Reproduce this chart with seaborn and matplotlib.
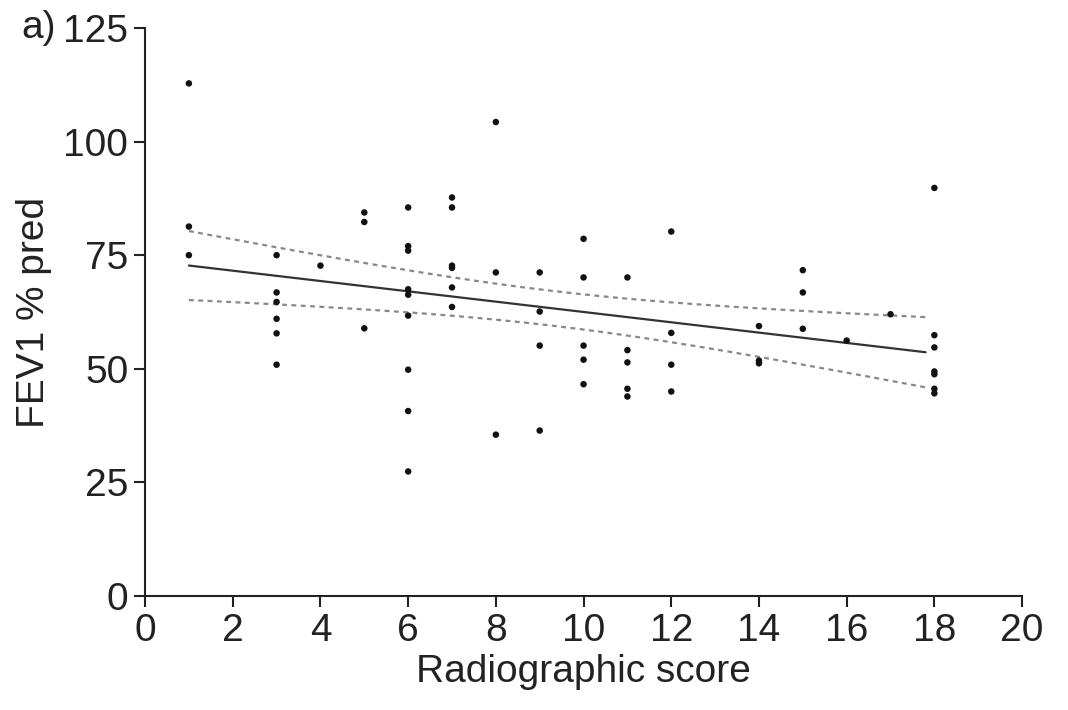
import matplotlib.pyplot as plt
import numpy as np
import pandas as pd
import seaborn as sns

# Radiographic score (x) and FEV1 % predicted (y)
score = [1, 1, 1,
         3, 3, 3, 3, 3, 3,
         4,
         5, 5, 5,
         6, 6, 6, 6, 6, 6, 6, 6, 6,
         7, 7, 7, 7, 7, 7,
         8, 8, 8,
         9, 9, 9, 9,
         10, 10, 10, 10, 10,
         11, 11, 11, 11, 11,
         12, 12, 12, 12,
         14, 14, 14,
         15, 15, 15,
         16,
         17,
         18, 18, 18, 18, 18, 18, 18]
fev1 = [112.8, 81.3, 75.0,
        75.0, 66.8, 64.7, 61.0, 57.8, 50.9,
        72.7,
        84.4, 82.3, 58.9,
        85.5, 77.0, 76.0, 67.5, 66.3, 61.7, 49.8, 40.7, 27.4,
        87.7, 85.5, 72.7, 72.2, 67.9, 63.6,
        104.3, 71.2, 35.5,
        71.2, 62.6, 55.1, 36.4,
        78.6, 70.1, 55.1, 52.0, 46.6,
        70.1, 54.1, 51.4, 45.6, 43.9,
        80.2, 57.9, 50.9, 45.0,
        59.4, 51.8, 51.2,
        71.7, 66.8, 58.8,
        56.2,
        62.0,
        89.8, 57.4, 54.7, 49.4, 48.8, 45.6, 44.6]

# span over which the fitted line and its confidence band are drawn
fit_range = [1, 17.8]
x_ticks = [0, 2, 4, 6, 8, 10, 12, 14, 16, 18, 20]
y_ticks = [0, 25, 50, 75, 100, 125]


def fit_with_ci(x, y, grid, t_crit=2.0):
    x = np.asarray(x, float)
    y = np.asarray(y, float)
    slope, intercept = np.polyfit(x, y, 1)
    resid = y - (intercept + slope * x)
    n = len(x)
    s = np.sqrt((resid ** 2).sum() / (n - 2))
    sxx = ((x - x.mean()) ** 2).sum()
    pred = intercept + slope * grid
    se = s * np.sqrt(1 / n + (grid - x.mean()) ** 2 / sxx)
    return pred, pred - t_crit * se, pred + t_crit * se


def main() -> None:
    sns.set_theme(style="ticks")
    plt.rcParams["font.family"] = ["Liberation Sans Narrow", "Liberation Sans", "DejaVu Sans"]

    df = pd.DataFrame({"score": score, "fev1": fev1})
    grid = np.linspace(fit_range[0], fit_range[1], 100)
    pred, lo, hi = fit_with_ci(df["score"], df["fev1"], grid)
    fit = pd.DataFrame({"x": grid, "pred": pred, "lo": lo, "hi": hi})

    fig = plt.figure(figsize=(10.68, 7.10), dpi=100)
    ax = fig.add_axes([0.1358, 0.1606, 0.8212, 0.8000])

    sns.lineplot(data=fit, x="x", y="pred", ax=ax, color="#333333", lw=1.6)
    for col in ["lo", "hi"]:
        sns.lineplot(data=fit, x="x", y=col, ax=ax, color="#888888", lw=1.6,
                     linestyle=(0, (2.2, 2.0)))
    sns.scatterplot(data=df, x="score", y="fev1", ax=ax, color="#111111",
                    s=22, edgecolor="none", zorder=3)

    ax.set_xlim(0, 20)
    ax.set_ylim(0, 125)
    ax.set_xticks(x_ticks)
    ax.set_yticks(y_ticks)
    ax.tick_params(labelsize=28, length=8, width=1.5, color="#222222",
                   labelcolor="#222222", pad=4)
    for side in ["left", "bottom"]:
        ax.spines[side].set_linewidth(1.5)
        ax.spines[side].set_color("#222222")
    sns.despine(ax=ax)

    ax.set_xlabel("Radiographic score", fontsize=28, color="#222222", labelpad=4)
    ax.set_ylabel("FEV1 % pred", fontsize=28, color="#222222", labelpad=8)
    fig.text(0.02, 0.96, "a)", fontsize=28, color="#222222", va="center")

    fig.savefig("out.png", dpi=100)
    plt.close(fig)


if __name__ == "__main__":
    main()
